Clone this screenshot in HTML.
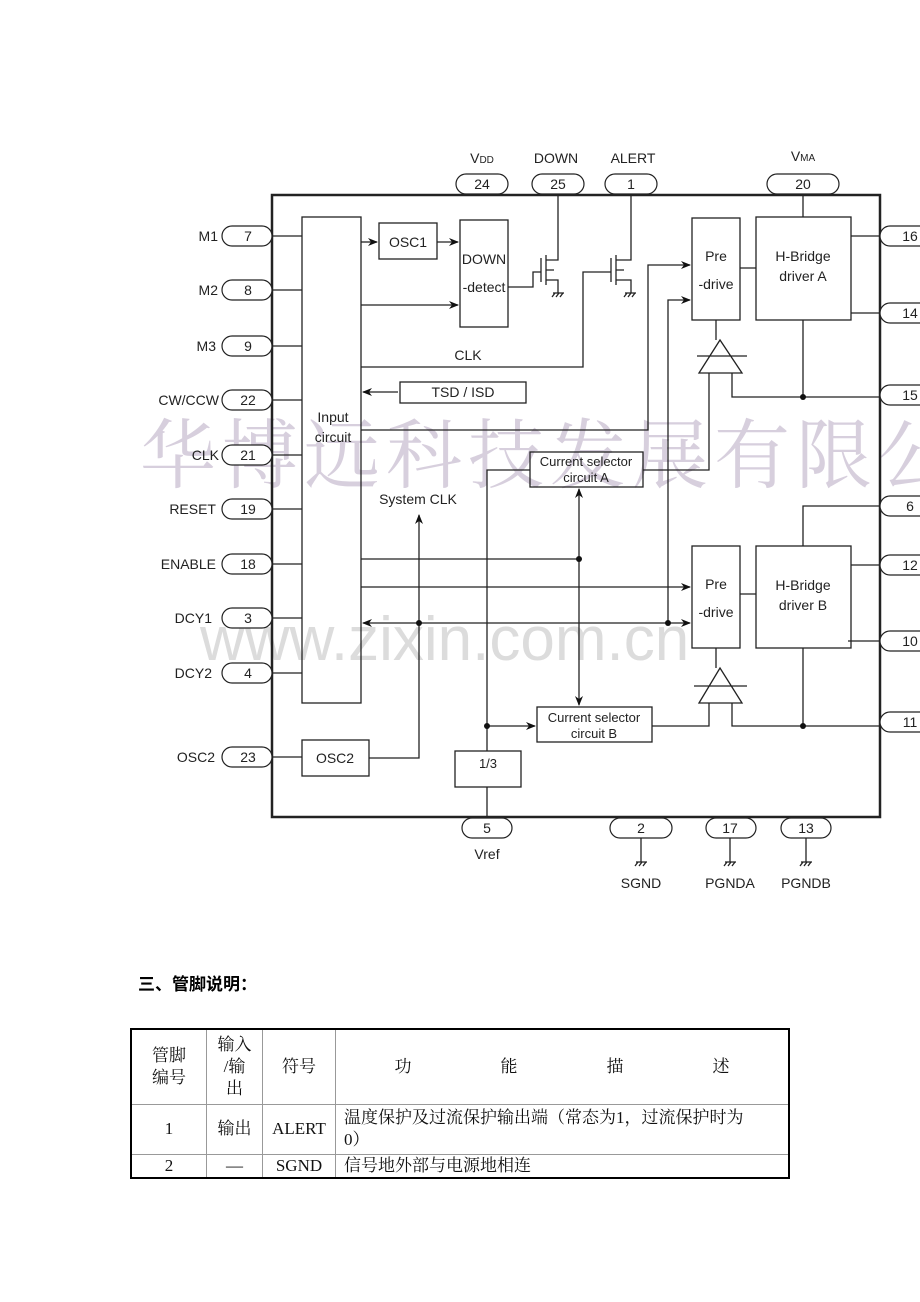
<!DOCTYPE html>
<html><head><meta charset="utf-8"><style>
html,body{margin:0;padding:0;background:#fff;}
body{width:920px;height:1302px;position:relative;overflow:hidden;}
svg{position:absolute;left:0;top:0;}
.t{font-family:"Liberation Sans",sans-serif;font-size:14px;fill:#222;}
.h{position:absolute;left:138px;top:970px;font:bold 17px "Liberation Sans","Noto Sans CJK SC",sans-serif;color:#000;}
table{position:absolute;left:130px;top:1028px;width:660px;border-collapse:collapse;border:2px solid #000;font-family:"Liberation Serif","Noto Serif CJK SC",serif;font-size:17px;color:#111;}
td{border:1px solid #999;text-align:center;padding:0;line-height:22px;}
</style></head><body>
<svg width="920" height="1302" viewBox="0 0 920 1302">
<defs><marker id="a" markerWidth="10" markerHeight="8" refX="9" refY="4" orient="auto" markerUnits="userSpaceOnUse"><path d="M0,0 L10,4 L0,8 L3,4z" fill="#111"/></marker></defs>
<text x="140" y="482" font-family="'Noto Serif CJK SC',serif" font-size="76" fill="#c9bfd2" fill-opacity="0.75" letter-spacing="6">华博远科技发展有限公</text>
<text x="200" y="660" font-family="'Liberation Sans',sans-serif" font-size="62" fill="#dcdcdc">www.zixin.com.cn</text>
<g stroke="#222" stroke-width="1.3" fill="none">
<rect x="272" y="195" width="608" height="622" stroke-width="2.5"/>
<rect x="302" y="217" width="59" height="486"/>
<rect x="379" y="223" width="58" height="36"/>
<rect x="460" y="220" width="48" height="107"/>
<rect x="692" y="218" width="48" height="102"/>
<rect x="756" y="217" width="95" height="103"/>
<rect x="400" y="382" width="126" height="21"/>
<rect x="530" y="452" width="113" height="35"/>
<rect x="692" y="546" width="48" height="102"/>
<rect x="756" y="546" width="95" height="102"/>
<rect x="537" y="707" width="115" height="35"/>
<rect x="302" y="740" width="67" height="36"/>
<rect x="455" y="751" width="66" height="36"/>
<path d="M272 236H302M272 290H302M272 346H302M272 400H302M272 455H302M272 509H302M272 564H302M272 618H302M272 673H302M272 757H302"/>
<path d="M361 242H377" marker-end="url(#a)"/>
<path d="M437 242H458" marker-end="url(#a)"/>
<path d="M361 305H458" marker-end="url(#a)"/>
<path d="M508 287H533V272H541"/>
<path d="M541 258V282M546 255V285M546 260H558V195M546 280H558V293M546 270H554"/>
<path d="M553 293H564M555 293L552 297M559 293L556 297M563 293L560 297"/>
<path d="M361 367H583V272H611"/>
<path d="M611 258V282M616 255V285M616 260H631V195M616 280H631V293M616 270H624"/>
<path d="M625 293H636M627 293L624 297M631 293L628 297M635 293L632 297"/>
<path d="M398 392H363" marker-end="url(#a)"/>
<path d="M361 430H648V265H690" marker-end="url(#a)"/>
<path d="M668 623V300H690" marker-end="url(#a)"/>
<path d="M740 268H756M803 195V217M851 236H880M851 313H880"/>
<path d="M716 320V340M699 373L720 340L742 373Z M697 356H747"/>
<path d="M709 373V470H643M732 373V397H880M803 320V397"/>
<path d="M530 470H487V751M487 787V817"/>
<path d="M487 726H535" marker-end="url(#a)"/>
<path d="M579 559V489" marker-end="url(#a)"/>
<path d="M579 559V705" marker-end="url(#a)"/>
<path d="M361 559H579"/>
<path d="M361 587H690" marker-end="url(#a)"/>
<path d="M419 623H690" marker-end="url(#a)"/>
<path d="M419 623H363" marker-end="url(#a)"/>
<path d="M369 758H419V515" marker-end="url(#a)"/>
<path d="M740 594H756M880 506H803V546M851 565H880M848 641H880"/>
<path d="M716 648V668M699 703L720 668L742 703Z M694 686H747"/>
<path d="M652 726H709V703M732 703V726H880M803 648V726"/>
<path d="M641 838V862M636 862H647M638 862L635 866M642 862L639 866M646 862L643 866"/>
<path d="M730 838V862M725 862H736M727 862L724 866M731 862L728 866M735 862L732 866"/>
<path d="M806 838V862M801 862H812M803 862L800 866M807 862L804 866M811 862L808 866"/>
</g>
<g fill="#111"><circle cx="579" cy="559" r="3"/><circle cx="419" cy="623" r="3"/><circle cx="668" cy="623" r="3"/><circle cx="803" cy="397" r="3"/><circle cx="803" cy="726" r="3"/><circle cx="487" cy="726" r="3"/></g>
<g stroke="#222" stroke-width="1.2" fill="#fff">
<rect x="222" y="226" width="50" height="20" rx="10"/><rect x="222" y="280" width="50" height="20" rx="10"/><rect x="222" y="336" width="50" height="20" rx="10"/><rect x="222" y="390" width="50" height="20" rx="10"/><rect x="222" y="445" width="50" height="20" rx="10"/><rect x="222" y="499" width="50" height="20" rx="10"/><rect x="222" y="554" width="50" height="20" rx="10"/><rect x="222" y="608" width="50" height="20" rx="10"/><rect x="222" y="663" width="50" height="20" rx="10"/><rect x="222" y="747" width="50" height="20" rx="10"/>
<rect x="456" y="174" width="52" height="20" rx="10"/><rect x="532" y="174" width="52" height="20" rx="10"/><rect x="605" y="174" width="52" height="20" rx="10"/><rect x="767" y="174" width="72" height="20" rx="10"/>
<rect x="880" y="226" width="60" height="20" rx="10"/><rect x="880" y="303" width="60" height="20" rx="10"/><rect x="880" y="385" width="60" height="20" rx="10"/><rect x="880" y="496" width="60" height="20" rx="10"/><rect x="880" y="555" width="60" height="20" rx="10"/><rect x="880" y="631" width="60" height="20" rx="10"/><rect x="880" y="712" width="60" height="20" rx="10"/>
<rect x="462" y="818" width="50" height="20" rx="10"/><rect x="610" y="818" width="62" height="20" rx="10"/><rect x="706" y="818" width="50" height="20" rx="10"/><rect x="781" y="818" width="50" height="20" rx="10"/>
</g>
<g class="t" text-anchor="middle">
<text x="248" y="241">7</text><text x="248" y="295">8</text><text x="248" y="351">9</text><text x="248" y="405">22</text><text x="248" y="460">21</text><text x="248" y="514">19</text><text x="248" y="569">18</text><text x="248" y="623">3</text><text x="248" y="678">4</text><text x="248" y="762">23</text>
<text x="482" y="189">24</text><text x="558" y="189">25</text><text x="631" y="189">1</text><text x="803" y="189">20</text>
<text x="910" y="241">16</text><text x="910" y="318">14</text><text x="910" y="400">15</text><text x="910" y="511">6</text><text x="910" y="570">12</text><text x="910" y="646">10</text><text x="910" y="727">11</text>
<text x="487" y="833">5</text><text x="641" y="833">2</text><text x="730" y="833">17</text><text x="806" y="833">13</text>
<text x="487" y="859">Vref</text><text x="641" y="888">SGND</text><text x="730" y="888">PGNDA</text><text x="806" y="888">PGNDB</text>
<text x="482" y="163">V<tspan font-size="10">DD</tspan></text><text x="556" y="163">DOWN</text><text x="633" y="163">ALERT</text><text x="803" y="161">V<tspan font-size="10">MA</tspan></text>
<text x="408" y="247">OSC1</text><text x="484" y="264">DOWN</text><text x="484" y="292">-detect</text>
<text x="716" y="261">Pre</text><text x="716" y="289">-drive</text><text x="803" y="261">H-Bridge</text><text x="803" y="281">driver A</text>
<text x="716" y="589">Pre</text><text x="716" y="617">-drive</text><text x="803" y="590">H-Bridge</text><text x="803" y="610">driver B</text>
<text x="468" y="360">CLK</text><text x="463" y="397">TSD / ISD</text>
<text x="333" y="422">Input</text><text x="333" y="442">circuit</text>
<text x="586" y="466" font-size="13">Current selector</text><text x="586" y="482" font-size="13">circuit A</text>
<text x="418" y="504">System CLK</text>
<text x="594" y="722" font-size="13">Current selector</text><text x="594" y="738" font-size="13">circuit B</text>
<text x="335" y="763">OSC2</text><text x="488" y="768" font-size="13">1/3</text>
</g>
<g class="t" text-anchor="end">
<text x="218" y="241">M1</text><text x="218" y="295">M2</text><text x="216" y="351">M3</text><text x="219" y="405">CW/CCW</text><text x="219" y="460">CLK</text><text x="216" y="514">RESET</text><text x="216" y="569">ENABLE</text><text x="212" y="623">DCY1</text><text x="212" y="678">DCY2</text><text x="215" y="762">OSC2</text>
</g>
</svg>
<div class="h">三、管脚说明：</div>
<table>
<tr style="height:75px"><td style="width:74px">管脚<br>编号</td><td style="width:55px">输入<br>/输<br>出</td><td style="width:72px">符号</td><td><span style="display:flex;justify-content:space-around;padding:0 14px">功<span>能</span><span>描</span><span>述</span></span></td></tr>
<tr style="height:50px"><td>1</td><td>输出</td><td>ALERT</td><td style="text-align:left;padding-left:8px">温度保护及过流保护输出端（常态为1，过流保护时为<br>0）</td></tr>
<tr style="height:24px"><td>2</td><td>—</td><td>SGND</td><td style="text-align:left;padding-left:8px">信号地外部与电源地相连</td></tr>
</table>
</body></html>
